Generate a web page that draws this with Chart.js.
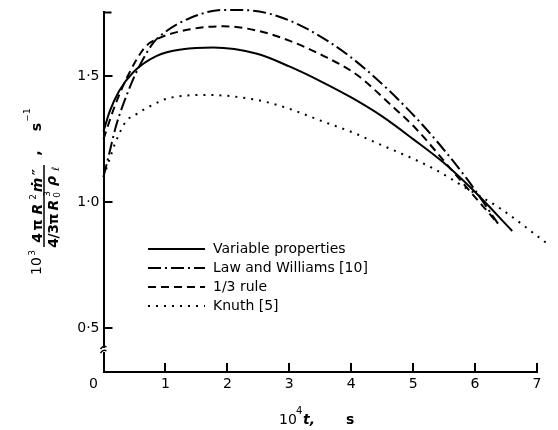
<!DOCTYPE html>
<html>
<head>
<meta charset="utf-8">
<script src="https://cdn.jsdelivr.net/npm/chart.js@4.4.1/dist/chart.umd.min.js"></script>
<style>
  html, body { margin: 0; padding: 0; background: #fff; }
  #wrap { width: 558px; height: 430px; }
</style>
</head>
<body>
<div id="wrap"><canvas id="c" width="558" height="430"></canvas></div>
<script>
// Time axis values (10^4 t, s) and normalised evaporation rate (10^3 s^-1) for each model
const tVariable   = [0, 0.1, 0.25, 0.48, 0.86, 1.28, 1.77, 2.48, 3.0, 3.5, 4.0, 4.5, 5.0, 5.5, 6.0, 6.6];
const rVariable   = [1.28, 1.36, 1.44, 1.515, 1.58, 1.606, 1.613, 1.588, 1.538, 1.48, 1.415, 1.34, 1.25, 1.155, 1.04, 0.886];

const tLawWilliams = [0, 0.1, 0.2, 0.4, 0.56, 0.8, 1.0, 1.4, 1.93, 2.36, 3.0, 3.65, 4.25, 5.1, 5.86, 6.37];
const rLawWilliams = [1.10, 1.2, 1.3, 1.44, 1.53, 1.63, 1.675, 1.73, 1.762, 1.76, 1.72, 1.634, 1.523, 1.32, 1.095, 0.915];

const tThirdRule  = [0, 0.19, 0.4, 0.67, 0.86, 1.4, 1.93, 2.48, 3.0, 3.55, 4.09, 4.62, 5.05, 5.64, 6.37];
const rThirdRule  = [1.25, 1.386, 1.504, 1.614, 1.646, 1.685, 1.697, 1.68, 1.64, 1.58, 1.505, 1.39, 1.29, 1.122, 0.915];

const tKnuth      = [0, 0.14, 0.19, 0.25, 0.31, 0.4, 0.54, 0.67, 0.8, 0.96, 1.1, 1.67, 2.48, 3.0, 3.54, 4.09, 4.25, 5.32, 5.86, 6.4, 7.17];
const rKnuth      = [1.10, 1.2, 1.235, 1.268, 1.30, 1.33, 1.35, 1.37, 1.386, 1.405, 1.415, 1.425, 1.405, 1.37, 1.32, 1.27, 1.252, 1.134, 1.055, 0.976, 0.835];

const seriesLabels = ['Variable properties', 'Law and Williams [10]', '1/3 rule', 'Knuth [5]'];
const xTickValues = [0, 1, 2, 3, 4, 5, 6, 7];
const yTickValues = [0.5, 1.0, 1.5];

const FONT = '"DejaVu Sans", sans-serif';

function pts(ts, rs) { return ts.map((t, i) => ({ x: t, y: rs[i] })); }

function line(label, data, dash) {
  return {
    label, data,
    borderColor: '#000', backgroundColor: '#000',
    borderWidth: 2, borderDash: dash,
    pointRadius: 0, showLine: true, fill: false,
    cubicInterpolationMode: 'monotone', clip: false
  };
}

// Axis decorations, axis titles and in-plot legend
const decorations = {
  id: 'decorations',
  afterDraw(chart) {
    const { ctx, chartArea: a, scales: { x, y } } = chart;
    ctx.save();
    ctx.strokeStyle = '#000';
    ctx.fillStyle = '#000';
    ctx.lineWidth = 2;
    ctx.setLineDash([]);

    // inward tick marks
    ctx.beginPath();
    xTickValues.forEach(v => {
      if (v === 0) return;
      const px = Math.round(x.getPixelForValue(v));
      ctx.moveTo(px, a.bottom); ctx.lineTo(px, a.bottom - 9);
    });
    yTickValues.forEach(v => {
      const py = Math.round(y.getPixelForValue(v));
      ctx.moveTo(a.left, py); ctx.lineTo(a.left + 9, py);
    });
    ctx.moveTo(a.left, a.top); ctx.lineTo(a.left + 8, a.top);
    ctx.stroke();

    // break in the y axis
    const by = 350;
    ctx.fillStyle = '#fff';
    ctx.fillRect(a.left - 2, by - 2, 4, 4);
    ctx.beginPath();
    ctx.lineWidth = 1.5;
    ctx.moveTo(a.left - 3, by - 1); ctx.quadraticCurveTo(a.left, by - 5, a.left + 3, by - 3);
    ctx.moveTo(a.left - 3, by + 3); ctx.quadraticCurveTo(a.left, by - 1, a.left + 3, by + 1);
    ctx.stroke();

    ctx.fillStyle = '#000';
    // origin label
    ctx.font = '14px ' + FONT;
    ctx.textAlign = 'center';
    ctx.textBaseline = 'middle';
    ctx.fillText('0', a.left - 10, a.bottom + 12);

    // x-axis title: 10^4 t,  s
    ctx.textAlign = 'left';
    ctx.textBaseline = 'alphabetic';
    ctx.font = '14px ' + FONT;
    ctx.fillText('10', 279, 424);
    ctx.font = '10px ' + FONT;
    ctx.fillText('4', 296, 414);
    ctx.font = 'italic bold 14px ' + FONT;
    ctx.fillText('t,', 303, 424);
    ctx.font = 'bold 14px ' + FONT;
    ctx.fillText('s', 346, 424);

    // y-axis title, rotated: 10^3 (4πR²ṁ″)/(4/3πR₀³ρₗ), s⁻¹
    ctx.save();
    ctx.rotate(-Math.PI / 2);
    ctx.textAlign = 'center';
    ctx.textBaseline = 'alphabetic';
    const put = (txt, pageY, pageX, font) => { ctx.font = font; ctx.fillText(txt, -pageY, pageX); };
    const n = '14px ' + FONT, sm = '9px ' + FONT, bd = 'bold 14px ' + FONT, bi = 'italic bold 14px ' + FONT;
    put('10', 266, 41, n);
    put('3', 253, 35, sm);
    // numerator
    put('4', 238, 42, bd);
    put('π', 225, 42, bd);
    put('R', 209, 42, bi);
    put('2', 197, 36, sm);
    put('ṁ', 185, 42, bi);
    put('″', 172, 42, bd);
    // denominator
    put('4', 243, 58, bd);
    put('/', 236, 58, bd);
    put('3', 229, 58, bd);
    put('π', 219, 58, bd);
    put('R', 205, 58, bi);
    put('3', 194, 50, sm);
    put('0', 195, 60, sm);
    put('ρ', 181, 56, bi);
    put('ℓ', 169, 59, 'italic 10px ' + FONT);
    // comma and unit
    put(',', 153, 40, bd);
    put('s', 127, 41, bd);
    put('−1', 115, 30, sm);
    ctx.restore();
    // fraction bar
    ctx.lineWidth = 1.5;
    ctx.beginPath();
    ctx.moveTo(44, 165); ctx.lineTo(44, 247);
    ctx.stroke();

    // legend inside the plot
    const rowY = [249, 268, 287, 306];
    chart.data.datasets.forEach((ds, i) => {
      const yy = rowY[i];
      ctx.lineWidth = ds.borderWidth;
      ctx.setLineDash(ds.borderDash || []);
      ctx.beginPath();
      ctx.moveTo(148, yy); ctx.lineTo(205, yy);
      ctx.stroke();
      ctx.setLineDash([]);
      ctx.font = '14px ' + FONT;
      ctx.textAlign = 'left';
      ctx.textBaseline = 'middle';
      ctx.fillText(ds.label, 213, yy);
    });
    ctx.restore();
  }
};

new Chart(document.getElementById('c'), {
  type: 'scatter',
  data: {
    datasets: [
      line(seriesLabels[0], pts(tVariable, rVariable), []),
      line(seriesLabels[1], pts(tLawWilliams, rLawWilliams), [13, 4, 2, 4]),
      line(seriesLabels[2], pts(tThirdRule, rThirdRule), [8, 5]),
      line(seriesLabels[3], pts(tKnuth, rKnuth), [2, 6])
    ]
  },
  options: {
    responsive: false,
    animation: false,
    devicePixelRatio: 1,
    layout: { padding: { left: 0, right: 21, top: 10, bottom: 0 } },
    plugins: { legend: { display: false }, tooltip: { enabled: false } },
    scales: {
      x: {
        type: 'linear', min: 0, max: 7,
        afterFit(s) { s.height = 58; },
        afterBuildTicks(s) { s.ticks = xTickValues.map(v => ({ value: v })); },
        ticks: {
          callback: v => (v === 0 ? '' : String(v)),
          color: '#000', font: { family: FONT, size: 14 }, padding: 4, maxRotation: 0
        },
        grid: { display: false, drawTicks: false, tickLength: 0 },
        border: { display: true, color: '#000', width: 2 }
      },
      y: {
        type: 'linear', min: 0.327, max: 1.752,
        afterFit(s) { s.width = 103.5; },
        afterBuildTicks(s) { s.ticks = yTickValues.map(v => ({ value: v })); },
        ticks: {
          callback: v => v.toFixed(1).replace('.', '·'),
          color: '#000', font: { family: FONT, size: 14 }, padding: 4
        },
        grid: { display: false, drawTicks: false, tickLength: 0 },
        border: { display: true, color: '#000', width: 2 }
      }
    }
  },
  plugins: [decorations]
});
</script>
</body>
</html>
